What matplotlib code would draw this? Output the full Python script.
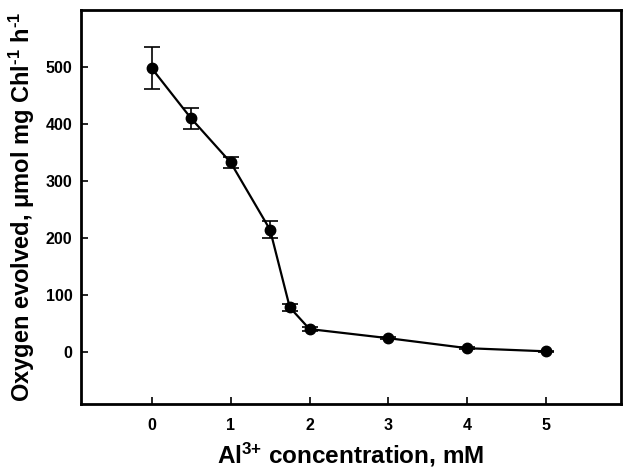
import numpy as np
from matplotlib import pyplot as plt

plt.rcParams['font.family'] = ['Liberation Sans', 'DejaVu Sans']
plt.rcParams['font.weight'] = 'bold'
plt.rcParams['mathtext.fontset'] = 'custom'
plt.rcParams['mathtext.rm'] = 'Liberation Sans:bold'
plt.rcParams['mathtext.bf'] = 'Liberation Sans:bold'
plt.rcParams['mathtext.default'] = 'bf'

# Al3+ concentration (mM) vs oxygen evolution
concentration = [0, 0.5, 1, 1.5, 1.75, 2, 3, 4, 5]
oxygen = [498, 410, 333, 215, 79, 41, 25, 7.5, 2]
errors = [37, 18, 10, 15, 6, 4, 2, 2, 1]

fig = plt.figure(figsize=(6.25, 4.74), dpi=100)
ax = fig.add_axes([0.129, 0.148, 0.865, 0.831])

ax.errorbar(concentration, oxygen, yerr=errors, color='black', linewidth=1.6,
            marker='o', markersize=7.5, capsize=6, elinewidth=1.2, capthick=1.2)

ax.set_xlim(-0.9, 5.95)
ax.set_ylim(-90, 600)
ax.set_xticks([0, 1, 2, 3, 4, 5])
ax.set_yticks([0, 100, 200, 300, 400, 500])
ax.tick_params(direction='in', length=5, width=1.2, labelsize=11.5)
ax.tick_params(axis='x', pad=10)
ax.tick_params(axis='y', pad=6)
for lab in ax.get_xticklabels() + ax.get_yticklabels():
    lab.set_fontweight('bold')
for s in ax.spines.values():
    s.set_linewidth(2)

ax.set_xlabel(r'Al$^{\text{3+}}$ concentration, mM', fontsize=17.5, fontweight='bold', labelpad=6)
ax.set_ylabel('Oxygen evolved, \u03bcmol mg Chl' + r'$^{\text{-1}}$ h$^{\text{-1}}$', fontsize=17,
              fontweight='bold', labelpad=6)

fig.savefig('out.png', dpi=100)
